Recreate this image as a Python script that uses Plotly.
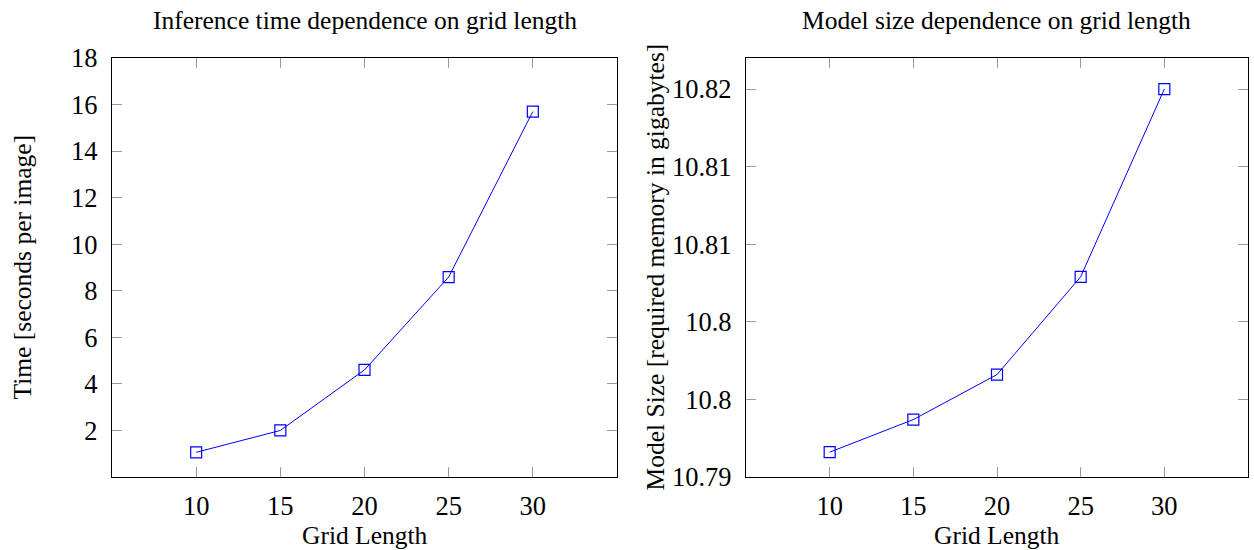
import plotly.graph_objects as go

# ---- data ----
grid_length = [10, 15, 20, 25, 30]
inference_time = [1.06, 2.0, 4.6, 8.59, 15.7]
model_size = [10.7916, 10.7937, 10.7966, 10.8029, 10.815]

x_ticks = [10, 15, 20, 25, 30]
time_ticks = [2, 4, 6, 8, 10, 12, 14, 16, 18]
size_tickvals = [10.79, 10.795, 10.80, 10.805, 10.81, 10.815]
size_ticktext = ["10.79", "10.8", "10.8", "10.81", "10.81", "10.82"]

title_left = "Inference time dependence on grid length"
title_right = "Model size dependence on grid length"
xlabel = "Grid Length"
ylabel_left = "Time [seconds per image]"
ylabel_right = "Model Size [required memory in gigabytes]"

FONT = "Liberation Serif"
FS = 25.5
TFS = 26.5
W, H = 1254, 550

fig = go.Figure()

line_style = dict(color="#0000ff", width=1)
marker_style = dict(symbol="square-open", size=11, color="#0000ff", line=dict(width=1.2, color="#0000ff"))

fig.add_trace(go.Scatter(x=grid_length, y=inference_time, mode="lines+markers",
                         line=line_style, marker=marker_style, xaxis="x", yaxis="y",
                         showlegend=False))
fig.add_trace(go.Scatter(x=grid_length, y=model_size, mode="lines+markers",
                         line=line_style, marker=marker_style, xaxis="x2", yaxis="y2",
                         showlegend=False))

# plot areas in pixels
L1, R1 = 112, 617
L2, R2 = 746, 1248
TOP, BOT = 58, 477
ydom = [1 - BOT / H, 1 - TOP / H]

common = dict(showline=True, linecolor="black", linewidth=1.2, mirror="allticks",
              ticks="inside", ticklen=10, tickwidth=1.2, tickcolor="#9a9a9a",
              showgrid=False, zeroline=False, automargin=False,
              tickfont=dict(family=FONT, size=TFS, color="black"))

fig.update_layout(
    width=W, height=H,
    margin=dict(l=0, r=0, t=0, b=0),
    paper_bgcolor="white", plot_bgcolor="white",
    xaxis=dict(domain=[L1 / W, R1 / W], range=[5, 35], tickvals=x_ticks,
               anchor="y", ticklabelstandoff=5, **common),
    yaxis=dict(domain=ydom, range=[0, 18], tickvals=time_ticks,
               anchor="x", ticklabelstandoff=8, **common),
    xaxis2=dict(domain=[L2 / W, R2 / W], range=[5, 35], tickvals=x_ticks,
                anchor="y2", ticklabelstandoff=5, **common),
    yaxis2=dict(domain=ydom, range=[10.79, 10.817], tickvals=size_tickvals,
                ticktext=size_ticktext, anchor="x2", ticklabelstandoff=8, **common),
)

afont = dict(family=FONT, size=FS, color="black")
cx1 = (L1 + R1) / 2 / W
cx2 = (L2 + R2) / 2 / W
cy = 1 - (TOP + BOT) / 2 / H
annots = [
    dict(text=title_left, x=cx1, y=1 - 20 / H),
    dict(text=title_right, x=cx2, y=1 - 20 / H),
    dict(text=xlabel, x=cx1, y=1 - 535 / H),
    dict(text=xlabel, x=cx2, y=1 - 535 / H),
    dict(text=ylabel_left, x=22 / W, y=cy, textangle=-90),
    dict(text=ylabel_right, x=655 / W, y=cy, textangle=-90),
]
for a in annots:
    fig.add_annotation(xref="paper", yref="paper", showarrow=False,
                       xanchor="center", yanchor="middle", font=afont, **a)

fig.write_html("out.html", config={"displayModeBar": False},
               post_script="document.body.style.margin='0';document.body.style.padding='0';")
